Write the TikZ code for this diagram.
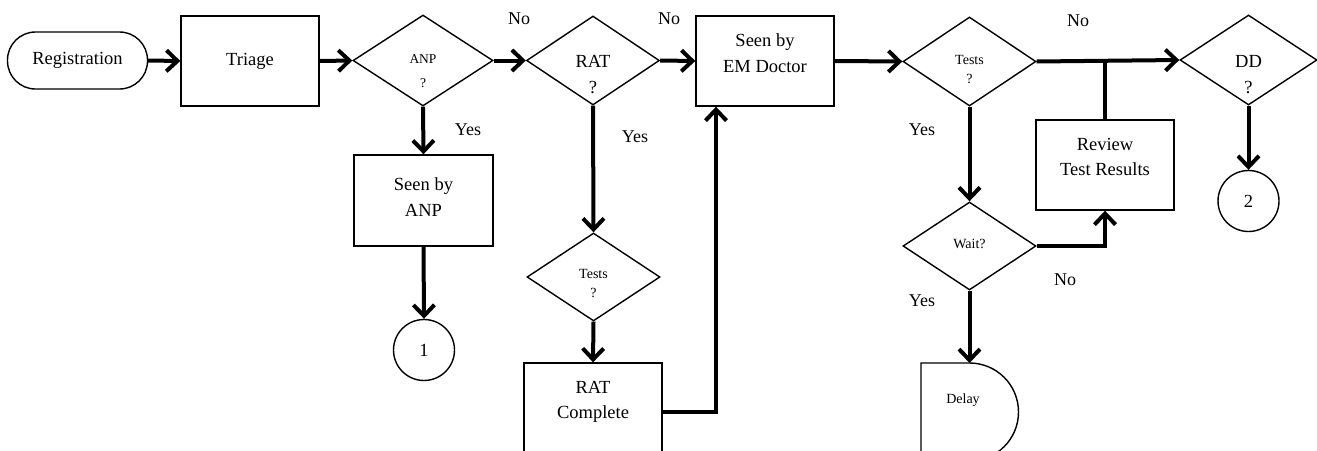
\documentclass[tikz,border=0pt]{standalone}
\usepackage{fontspec}
\setmainfont{Liberation Serif}
\usetikzlibrary{shapes.geometric,arrows.meta}
\begin{document}
\begin{tikzpicture}[x=1pt,y=-1pt,
 box/.style={draw, line width=1.4pt, fill=white, inner sep=0pt},
 dec/.style={draw, diamond, line width=1.4pt, fill=white, inner sep=0pt},
 big/.style={font=\fontsize{18.5}{25.5}\selectfont, align=center, inner sep=0pt},
 small/.style={font=\fontsize{14}{19}\selectfont, align=center, inner sep=0pt},
 lab/.style={font=\fontsize{18}{20}\selectfont, inner sep=0pt},
 conn/.style={line width=4pt, -{Straight Barb[length=11pt,width=21pt]}},
 plainline/.style={line width=4pt},
 circ/.style={draw, circle, line width=1.4pt, fill=white, inner sep=0pt, minimum size=61pt, font=\fontsize{18.5}{20}\selectfont}]
\useasboundingbox (0,0) rectangle (1317,450);
\clip (0,0) rectangle (1317,450);

% nodes
\node[box, big, rounded corners=28pt, minimum width=140pt, minimum height=57pt] (reg) at (77.5,60.5) {Registration};
\node[box, big, minimum width=138pt, minimum height=90pt] (triage) at (250,61) {Triage};
\node[dec, minimum width=140pt, minimum height=91pt] (anp) at (423,60.5) {};
\node[small, font=\fontsize{13.5}{24}\selectfont] (anpt) at (423,71) {ANP\\?};
\node[dec, minimum width=133pt, minimum height=89pt] (rat) at (593,60.5) {};
\node[big, font=\fontsize{18.5}{26}\selectfont] (ratt) at (593,75) {RAT\\?};
\node[box, minimum width=138pt, minimum height=90pt] (em) at (765,61) {};
\node[big] (emt) at (765,53) {Seen by\\EM Doctor};
\node[dec, minimum width=133pt, minimum height=89pt] (tests1) at (969.5,61.5) {};
\node[small] (tests1t) at (969.5,70) {Tests\\?};
\node[box, minimum width=138pt, minimum height=90pt] (review) at (1105,165) {};
\node[big] (reviewt) at (1105,157) {Review\\Test Results};
\node[dec, minimum width=137pt, minimum height=90pt] (dd) at (1248.5,60) {};
\node[big] (ddt) at (1248.5,74.5) {DD\\?};
\node[circ] (c2) at (1248.5,201) {2};

\node[box, minimum width=139pt, minimum height=91pt] (sanp) at (423.5,200.5) {};
\node[big] (sanpt) at (423.5,197) {Seen by\\ANP};
\node[circ] (c1) at (424,350) {1};

\node[dec, minimum width=133pt, minimum height=88pt] (tests2) at (593.5,277) {};
\node[small] (tests2t) at (593.5,283.5) {Tests\\?};
\node[box, minimum width=138pt, minimum height=110pt] (ratc) at (593,418) {};
\node[big] (ratct) at (593,402) {RAT\\Complete};

\node[dec, minimum width=133pt, minimum height=88pt] (wait) at (969.5,246) {};
\node[small] (waitt) at (969.5,244) {Wait?};

% delay shape
\coordinate (dtop) at (969.5,363);
\draw[line width=1.4pt, fill=white] (921,475) -- (921,363) -- (dtop) arc[start angle=-90, end angle=90, radius=49] -- (921,461);
\node[small] (delayt) at (963,400) {Delay};

% connectors
\coordinate (j1) at (1105,61);
\coordinate (k1) at (716,412);
\draw[conn] (reg.east) -- (triage.west);
\draw[conn] (triage.east) -- (anp.west);
\draw[conn] (anp.east) -- (rat.west);
\draw[conn] (rat.east) -- (em.west);
\draw[conn] (em.east) -- (tests1.west);
\draw[conn] (tests1.east) -- (dd.west);
\draw[plainline] (review.north) -- (j1);
\draw[conn] (anp.south) -- (sanp.north);
\draw[conn] (sanp.south) -- (c1.north);
\draw[conn] (rat.south) -- (tests2.north);
\draw[conn] (tests2.south) -- (ratc.north);
\draw[conn] (ratc.east |- k1) -- (k1) -- (k1 |- em.south);
\draw[conn] (tests1.south) -- (wait.north);
\draw[conn] (wait.east) -| (review.south);
\draw[conn] (wait.south) -- (dtop);
\draw[conn] (dd.south) -- (c2.north);

% labels
\node[lab] (l1) at (519,19) {No};
\node[lab] (l2) at (669,19) {No};
\node[lab] (l3) at (468,130) {Yes};
\node[lab] (l4) at (635,137) {Yes};
\node[lab] (l5) at (1078,21) {No};
\node[lab] (l6) at (922,130) {Yes};
\node[lab] (l7) at (1065,280) {No};
\node[lab] (l8) at (922,301) {Yes};
\end{tikzpicture}
\end{document}
